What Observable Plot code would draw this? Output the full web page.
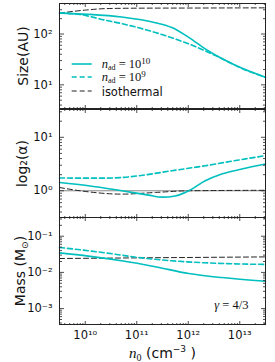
<!DOCTYPE html>
<html><head><meta charset="utf-8">
<script src="https://cdn.jsdelivr.net/npm/d3@7"></script>
<script src="https://cdn.jsdelivr.net/npm/@observablehq/plot@0.6"></script>
<style>
body{margin:0;background:#fff;}
#wrap{position:relative;width:275px;height:362px;overflow:hidden;font-family:"DejaVu Sans",sans-serif;background:#fff;}
#wrap svg{position:absolute;left:0;overflow:visible;}
#wrap svg#legend{left:70px;top:56px;}
</style></head><body>
<div id="wrap">
  <svg id="legend" width="100" height="44">
    <line x1="1.7" x2="21.7" y1="8" y2="8" stroke="#00BFBF" stroke-width="1.6"/>
    <text x="31.7" y="12" font-family="Liberation Serif" font-size="12.5" fill="#111"><tspan font-style="italic">n</tspan><tspan font-size="8" dy="2">ad</tspan><tspan dy="-2"> = 10</tspan><tspan font-size="9" dy="-4.5">10</tspan></text>
    <line x1="1.7" x2="21.7" y1="21" y2="21" stroke="#00BFBF" stroke-width="1.6" stroke-dasharray="5,3"/>
    <text x="31.7" y="25" font-family="Liberation Serif" font-size="12.5" fill="#111"><tspan font-style="italic">n</tspan><tspan font-size="8" dy="2">ad</tspan><tspan dy="-2"> = 10</tspan><tspan font-size="9" dy="-4.5">9</tspan></text>
    <line x1="1.7" x2="21.7" y1="35" y2="35" stroke="#222" stroke-width="1" stroke-dasharray="5,3"/>
    <text x="31.7" y="39.5" font-family="DejaVu Sans" font-size="11.5" fill="#111">isothermal</text>
  </svg>
</div>
<script>
// ---------- data ----------
const xMajor = [1e10, 1e11, 1e12, 1e13];

// Size (AU)
const nSizeAd10 = [3.16e9, 1.15e10, 5.1e10, 2.3e11, 4.8e11, 1.02e12, 2.14e12, 4.47e12, 9.55e12, 3.16e13];
const sizeAd10  = [258, 244, 216, 167, 134, 86, 51, 33, 22.6, 14.1];
const nSizeAd9  = [3.16e9, 7.4e9, 2.45e10, 5.1e10, 2.3e11, 1.02e12, 4.47e12, 1.1e13, 3.16e13];
const sizeAd9   = [258, 244, 187, 160, 107, 64, 33, 21, 14.1];
const nSizeIso  = [3.16e9, 1e10, 2.5e10, 1e11, 1e12, 1e13, 3.16e13];
const sizeIso   = [258, 295, 316, 322, 324, 326, 327];

// log2(alpha)
const nAlphaAd10 = [3.16e9, 1.15e10, 5.1e10, 1.7e11, 3.1e11, 5.6e11, 1.02e12, 2.14e12, 4.47e12, 1.1e13, 3.16e13];
const alphaAd10  = [1.43, 1.24, 1.0, 0.83, 0.76, 0.80, 1.0, 1.54, 2.06, 2.55, 3.16];
const nAlphaAd9  = [3.16e9, 2.45e10, 5.1e10, 1.1e11, 4.8e11, 2.14e12, 9.55e12, 3.16e13];
const alphaAd9   = [1.73, 1.72, 1.77, 1.91, 2.37, 2.94, 3.76, 4.54];
const nAlphaIso  = [3.16e9, 1.15e10, 5.1e10, 2.3e11, 1.02e12, 3.16e13];
const alphaIso   = [1.15, 0.955, 0.865, 0.93, 1.0, 1.02];

// Mass (Msun)
const nMassAd10 = [3.16e9, 1.15e10, 5.1e10, 2.3e11, 1.02e12, 4.47e12, 3.16e13];
const massAd10  = [0.0347, 0.0282, 0.0209, 0.0143, 0.0093, 0.0072, 0.0057];
const nMassAd9  = [3.16e9, 2.45e10, 1.1e11, 4.8e11, 2.14e12, 3.16e13];
const massAd9   = [0.0488, 0.0347, 0.0257, 0.0209, 0.0184, 0.0166];
const nMassIso  = [3.16e9, 3.16e11, 3.16e13];
const massIso   = [0.0242, 0.0255, 0.0268];

const sizeTicks  = [1e1, 1e2];
const alphaTicks = [1e0, 1e1];
const massTicks  = [1e-3, 1e-2, 1e-1];

// ---------- helpers ----------
const CYAN = "#00BFBF", INK = "#222";
const SUP = {"0":"⁰","1":"¹","2":"²","3":"³","4":"⁴","5":"⁵","6":"⁶","7":"⁷","8":"⁸","9":"⁹","-":"⁻"};
const pow10Label = d => "10" + String(Math.round(Math.log10(d))).split("").map(c => SUP[c]).join("");
const xDomain = [10 ** 9.5, 10 ** 13.5];
function minorsIn(domain) {
  const out = [];
  for (let e = Math.floor(Math.log10(domain[0])); e <= Math.ceil(Math.log10(domain[1])); e++)
    for (let m = 2; m <= 9; m++) { const v = m * 10 ** e; if (v >= domain[0] && v <= domain[1]) out.push(v); }
  return out;
}
function series(ns, vs, stroke, width, dash) {
  return Plot.line(vs, {x: ns, y: vs, stroke, strokeWidth: width, strokeDasharray: dash, curve: "monotone-x"});
}
function ticks(yDomain, yMajor) {
  const xMinor = minorsIn(xDomain), yMinor = minorsIn(yDomain);
  const t = {tickFormat: () => "", label: null, stroke: INK, strokeWidth: 0.8};
  return [
    Plot.axisY(yMajor, {...t, anchor: "right", frameAnchor: "left", tickSize: 4}),
    Plot.axisY(yMinor, {...t, anchor: "right", frameAnchor: "left", tickSize: 2}),
    Plot.axisY(yMajor, {...t, anchor: "left", frameAnchor: "right", tickSize: 4}),
    Plot.axisY(yMinor, {...t, anchor: "left", frameAnchor: "right", tickSize: 2}),
    Plot.axisX(xMajor, {...t, anchor: "top", frameAnchor: "bottom", tickSize: 4}),
    Plot.axisX(xMinor, {...t, anchor: "top", frameAnchor: "bottom", tickSize: 2}),
    Plot.axisX(xMajor, {...t, anchor: "bottom", frameAnchor: "top", tickSize: 4}),
    Plot.axisX(xMinor, {...t, anchor: "bottom", frameAnchor: "top", tickSize: 2}),
    Plot.axisY(yMajor, {anchor: "left", tickSize: 0, tickPadding: 7, tickFormat: pow10Label, label: null, fontSize: 11.5, fill: "#111"})
  ];
}
function panel({top, height, marginTop, marginBottom, yDomain, yMajor, lines, label, labelDx, extra = []}) {
  const svg = Plot.plot({
    width: 275, height, marginLeft: 59, marginRight: 10, marginTop, marginBottom,
    style: {background: "transparent", fontFamily: "DejaVu Sans", fontSize: "11px", overflow: "visible"},
    x: {type: "log", domain: xDomain},
    y: {type: "log", domain: yDomain},
    marks: [
      ...extra,
      ...lines,
      ...ticks(yDomain, yMajor),
      Plot.frame({stroke: INK, strokeWidth: 1}),
      Plot.text([label], {frameAnchor: "left", textAnchor: "middle", lineAnchor: "middle", dx: labelDx, rotate: -90, fontSize: 14, fill: "#111"})
    ]
  });
  svg.style.top = top + "px";
  document.getElementById("wrap").insertBefore(svg, document.getElementById("legend"));
  return svg;
}

// ---------- panels ----------
panel({
  top: 0, height: 109, marginTop: 3, marginBottom: 1,
  yDomain: [10 ** 0.535, 10 ** 2.6], yMajor: sizeTicks,
  label: "Size(AU)", labelDx: -36,
  lines: [
    series(nSizeIso, sizeIso, INK, 1, "5,3"),
    series(nSizeAd9, sizeAd9, CYAN, 1.6, "5,3"),
    series(nSizeAd10, sizeAd10, CYAN, 1.6, null)
  ]
});

panel({
  top: 108, height: 110, marginTop: 1, marginBottom: 1,
  yDomain: [10 ** -0.5, 10 ** 1.52], yMajor: alphaTicks,
  label: "log₂(α)", labelDx: -37,
  extra: [Plot.ruleY([1], {stroke: "#888", strokeWidth: 1})],
  lines: [
    series(nAlphaIso, alphaIso, INK, 1, "5,3"),
    series(nAlphaAd9, alphaAd9, CYAN, 1.6, "5,3"),
    series(nAlphaAd10, alphaAd10, CYAN, 1.6, null)
  ]
});

const p3 = panel({
  top: 216, height: 146, marginTop: 1, marginBottom: 38,
  yDomain: [10 ** -3.44, 10 ** -0.483], yMajor: massTicks,
  label: "Mass (M⊙)", labelDx: -39,
  extra: [
    Plot.axisX(xMajor, {anchor: "bottom", tickSize: 0, tickPadding: 6, tickFormat: pow10Label, label: null, fontSize: 11.5, fill: "#111"}),
    Plot.text(["n₀ (cm⁻³)"], {frameAnchor: "bottom", lineAnchor: "middle", dy: 29, fontSize: 14, fill: "#111"}),
    Plot.text(["γ=4/3"], {frameAnchor: "bottom-right", dx: -17, dy: -16, textAnchor: "end", lineAnchor: "bottom", fontSize: 12.5, fill: "#111", fontFamily: "Liberation Serif"})
  ],
  lines: [
    series(nMassIso, massIso, INK, 1, "5,3"),
    series(nMassAd9, massAd9, CYAN, 1.6, "5,3"),
    series(nMassAd10, massAd10, CYAN, 1.6, null)
  ]
});

// ---------- rich text styling ----------
d3.select(p3).selectAll("text").each(function () {
  const el = d3.select(this);
  const s = this.textContent;
  if (s === "n₀ (cm⁻³)") {
    el.text(null);
    el.append("tspan").attr("font-family", "Liberation Serif").attr("font-style", "italic").attr("font-size", 15).text("n");
    el.append("tspan").attr("font-family", "Liberation Serif").attr("font-size", 10).attr("dy", 3).text("0");
    el.append("tspan").attr("dy", -3).text(" (cm");
    el.append("tspan").attr("font-size", 9).attr("dy", -6).text("−3");
    el.append("tspan").attr("dy", 6).text(" )");
  } else if (s === "Mass (M⊙)") {
    el.text(null);
    el.append("tspan").text("Mass (M");
    el.append("tspan").attr("font-size", 9).attr("dy", 3).text("⊙");
    el.append("tspan").attr("dy", -3).text(")");
  } else if (s === "γ=4/3") {
    el.text(null);
    el.append("tspan").attr("font-style", "italic").text("γ");
    el.append("tspan").text(" = 4/3");
  }
});
</script>
</body></html>
